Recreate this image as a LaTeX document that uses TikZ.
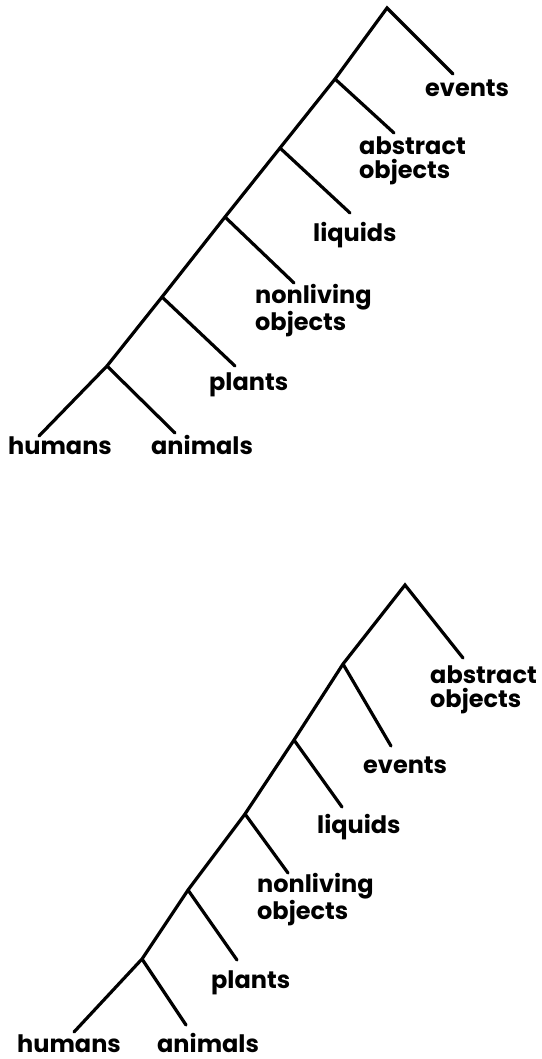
\documentclass[tikz,border=0pt]{standalone}
\usepackage{fontspec}
\setmainfont{Poppins}
\usepackage{tikz}

\begin{document}
\begin{tikzpicture}[x=1pt, y=-1pt,
    branch/.style={line width=3.2pt, line cap=round},
    word/.style={anchor=base west, inner sep=0pt, align=left, font=\bfseries\fontsize{24}{24}\selectfont}]
    \useasboundingbox (0,0) rectangle (541,1059);
    \coordinate (root) at (387,8);
    \coordinate (k1) at (335,79);
    \coordinate (k2) at (280,148);
    \coordinate (k3) at (225,217);
    \coordinate (k4) at (162,297);
    \coordinate (k5) at (107,366);
    \coordinate (t-events) at (453,74);
    \coordinate (t-abstract) at (394,133);
    \coordinate (t-liquids) at (350,213);
    \coordinate (t-nonliving) at (294,283);
    \coordinate (t-plants) at (235,366);
    \coordinate (t-humans) at (39,436);
    \coordinate (t-animals) at (175,433);
    \node [word] (events) at (425,97) {events};
    \node [word] (abstract) at (359,179) {abstract\\objects};
    \node [word] (liquids) at (313,241) {liquids};
    \node [word] (nonliving) at (255,330) {nonliving\\objects};
    \node [word] (plants) at (209,390) {plants};
    \node [word] (humans) at (8,454) {humans};
    \node [word] (animals) at (151,454) {animals};
    \draw [branch] (t-events) -- (root) -- (k1) -- (k2) -- (k3) -- (k4) -- (k5) -- (t-humans);
    \draw [branch] (k1) -- (t-abstract);
    \draw [branch] (k2) -- (t-liquids);
    \draw [branch] (k3) -- (t-nonliving);
    \draw [branch] (k4) -- (t-plants);
    \draw [branch] (k5) -- (t-animals);

    \coordinate (root2) at (405,585);
    \coordinate (m1) at (343,664);
    \coordinate (m2) at (294,740);
    \coordinate (m3) at (245,814);
    \coordinate (m4) at (188,890);
    \coordinate (m5) at (142,959);
    \coordinate (u-abstract) at (463,658);
    \coordinate (u-events) at (391,746);
    \coordinate (u-liquids) at (342,807);
    \coordinate (u-nonliving) at (288,873);
    \coordinate (u-plants) at (237,960);
    \coordinate (u-humans) at (74,1032);
    \coordinate (u-animals) at (186,1025);
    \node [word] (abstract2) at (430,707) {abstract\\objects};
    \node [word] (events2) at (363,773) {events};
    \node [word] (liquids2) at (317,833) {liquids};
    \node [word] (nonliving2) at (257,919) {nonliving\\objects};
    \node [word] (plants2) at (211,988) {plants};
    \node [word] (humans2) at (17,1052) {humans};
    \node [word] (animals2) at (157,1052) {animals};
    \draw [branch] (u-abstract) -- (root2) -- (m1) -- (m2) -- (m3) -- (m4) -- (m5) -- (u-humans);
    \draw [branch] (m1) -- (u-events);
    \draw [branch] (m2) -- (u-liquids);
    \draw [branch] (m3) -- (u-nonliving);
    \draw [branch] (m4) -- (u-plants);
    \draw [branch] (m5) -- (u-animals);
\end{tikzpicture}
\end{document}
